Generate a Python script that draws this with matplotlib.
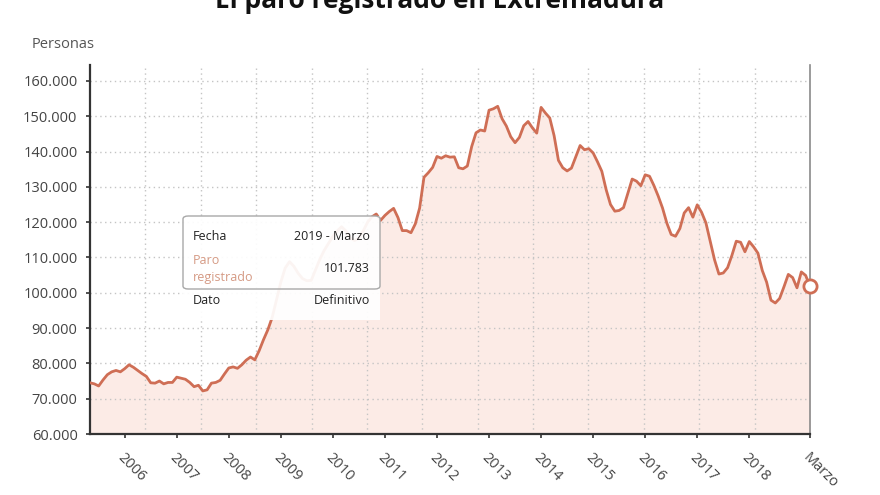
import matplotlib
matplotlib.use("Agg")
import matplotlib.pyplot as plt
from matplotlib.patches import FancyBboxPatch, Rectangle
from matplotlib.ticker import FuncFormatter
import numpy as np
import pandas as pd


# ============================
# Data (paro registrado, personas) - monthly, from May 2005
# ============================
paro_2005 = [74500, 74200, 73600, 75300, 76800, 77600, 78000, 77600]
paro_2006 = [78500, 79600, 78900, 78000, 77100, 76300, 74500, 74400, 75000, 74200, 74600, 74600]
paro_2007 = [76100, 75800, 75500, 74600, 73400, 73800, 72200, 72500, 74400, 74600, 75200, 77000]
paro_2008 = [78700, 79000, 78600, 79600, 80900, 81800, 81000, 83600, 86700, 89500, 93000, 98000]
paro_2009 = [103000, 107000, 108800, 107500, 105500, 104000, 103400, 103500, 106500, 109500, 112000, 114000]
paro_2010 = [116000, 117500, 118700, 117500, 115500, 114800, 115500, 117500, 120000, 121500, 122300, 120500]
paro_2011 = [121900, 123000, 123900, 121300, 117600, 117600, 117000, 119500, 124000, 132700, 134000, 135500]
paro_2012 = [138600, 138100, 138800, 138400, 138500, 135400, 135100, 135900, 141400, 145300, 146100, 145800]
paro_2013 = [151700, 152100, 152800, 149300, 147200, 144200, 142500, 144000, 147300, 148500, 146700, 145200]
paro_2014 = [152500, 150900, 149500, 144500, 137500, 135400, 134500, 135300, 138500, 141700, 140500, 140800]
paro_2015 = [139600, 137100, 134400, 129200, 125000, 123100, 123300, 124100, 128200, 132200, 131600, 130300]
paro_2016 = [133400, 133000, 130400, 127400, 124000, 119700, 116500, 116000, 118200, 122600, 124100, 121400]
paro_2017 = [124900, 122800, 119800, 114600, 109300, 105300, 105600, 107100, 110600, 114600, 114300, 111600]
paro_2018 = [114500, 113000, 111200, 106300, 103000, 97900, 97100, 98400, 101700, 105200, 104300, 101400]
paro_2019 = [105900, 104900, 101783]

start_month = "2005-05-01"
year_labels = ["2006", "2007", "2008", "2009", "2010", "2011", "2012",
               "2013", "2014", "2015", "2016", "2017", "2018"]
last_label = "Marzo"
y_ticks = [60000, 70000, 80000, 90000, 100000, 110000, 120000, 130000, 140000, 150000, 160000]

tooltip_fecha = "2019 - Marzo"
tooltip_valor = "101.783"
tooltip_dato = "Definitivo"

values = np.array(paro_2005 + paro_2006 + paro_2007 + paro_2008 + paro_2009 + paro_2010 + paro_2011
                  + paro_2012 + paro_2013 + paro_2014 + paro_2015 + paro_2016 + paro_2017 + paro_2018
                  + paro_2019, dtype=float)
dates = pd.date_range(start_month, periods=len(values), freq="MS")
x = np.arange(len(values))

LINE = "#cf6e55"
FILL = "#fcebe6"
TEXT = "#444444"

plt.rcParams["font.family"] = ["Open Sans", "DejaVu Sans"]

W, H = 880, 495
fig = plt.figure(figsize=(W / 100, H / 100), dpi=100)


def fx(px):
    return px / W


def fy(py):
    return 1 - py / H


ax = fig.add_axes([fx(90), fy(434), fx(810) - fx(90), fy(65) - fy(434)])

# fill + line
ax.fill_between(x, values, y_ticks[0], color=FILL, lw=0, zorder=1)
ax.plot(x, values, color=LINE, lw=2, zorder=3, solid_joinstyle="round")
ax.plot(x[-1], values[-1], "o", ms=9.5, mfc="white", mec=LINE, mew=2, zorder=4, clip_on=False)

ax.set_xlim(x[0], x[-1])
ax.set_ylim(60000, 164500)

# horizontal grid
for yv in y_ticks[1:]:
    ax.axhline(yv, color="#c4c4c4", lw=1, dashes=(1, 2.5), zorder=2)
# vertical grid (13 equal divisions of the axis, as in the original)
for xv in np.linspace(x[0], x[-1], 14)[1:-1]:
    ax.axvline(xv, color="#c4c4c4", lw=1, dashes=(1, 2.5), zorder=2)

# y axis
ax.set_yticks(y_ticks)
ax.yaxis.set_major_formatter(FuncFormatter(lambda v, p: f"{int(v):,}".replace(",", ".")))
ax.tick_params(axis="y", length=3, width=1.2, color="#333333", labelsize=10.5,
               labelcolor=TEXT, pad=6)

# x axis: one tick per January (2006-2018) + final month
jan_idx = [i for i, d in enumerate(dates) if d.month == 1 and str(d.year) in year_labels]
tick_pos = jan_idx + [x[-1]]
tick_lab = [str(dates[i].year) for i in jan_idx] + [last_label]
ax.set_xticks(tick_pos)
ax.set_xticklabels(tick_lab, rotation=-45, ha="left", va="top", rotation_mode="anchor")
ax.tick_params(axis="x", length=3, width=1.2, color="#333333", labelsize=10.5,
               labelcolor=TEXT, pad=9)

# spines
ax.spines["top"].set_visible(False)
ax.spines["left"].set_linestyle((0, (1, 1)))
ax.spines["left"].set_color("#333333")
ax.spines["left"].set_linewidth(1.6)
ax.spines["bottom"].set_linestyle((0, (1, 1)))
ax.spines["bottom"].set_color("#333333")
ax.spines["bottom"].set_linewidth(1.6)
ax.spines["right"].set_color("#8a8a8a")
ax.spines["right"].set_linewidth(1.2)

# titles (the title is cropped at the top edge, as in the original)
fig.text(0.5, fy(8), "El paro registrado en Extremadura", ha="center", va="baseline",
         fontsize=19, fontweight="bold", color="#111111")
fig.text(fx(32), fy(44), "Personas", ha="left", va="center", fontsize=10.5, color="#555555")

# tooltip
bg = Rectangle((fx(183), fy(320)), fx(380) - fx(183), fy(216) - fy(320),
               transform=fig.transFigure, facecolor="white", alpha=0.93, lw=0, zorder=5)
fig.add_artist(bg)
box = FancyBboxPatch((fx(183), fy(289)), fx(380) - fx(183), fy(216) - fy(289),
                     boxstyle="round,pad=0,rounding_size=0.006", transform=fig.transFigure,
                     facecolor="none", edgecolor="#a8a8a8", lw=1, zorder=6)
fig.add_artist(box)

tt = dict(fontsize=9, zorder=7, va="center")
fig.text(fx(193), fy(237), "Fecha", ha="left", color="#222222", **tt)
fig.text(fx(370), fy(237), tooltip_fecha, ha="right", color="#222222", **tt)
fig.text(fx(193), fy(260), "Paro", ha="left", color="#d59a84", **tt)
fig.text(fx(193), fy(278), "registrado", ha="left", color="#d59a84", **tt)
fig.text(fx(370), fy(269), tooltip_valor, ha="right", color="#222222", **tt)
fig.text(fx(193), fy(300), "Dato", ha="left", color="#222222", **tt)
fig.text(fx(370), fy(300), tooltip_dato, ha="right", color="#222222", **tt)

fig.savefig("out.png", dpi=100)
